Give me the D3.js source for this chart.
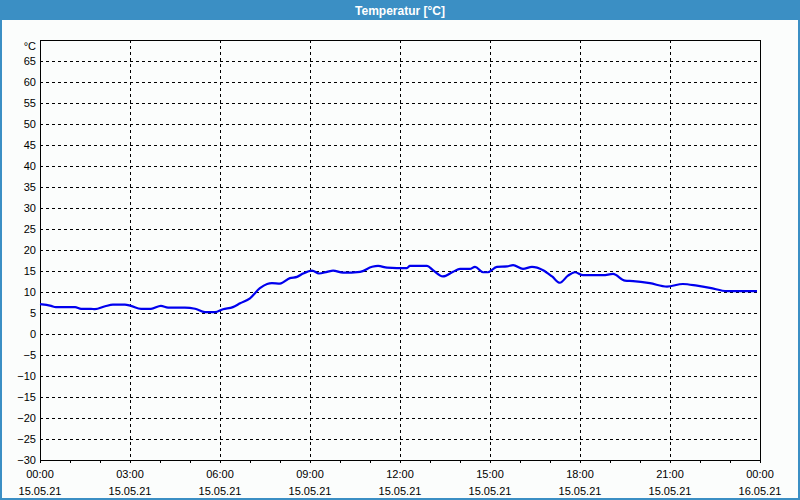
<!DOCTYPE html>
<html><head><meta charset="utf-8">
<script src="https://cdn.jsdelivr.net/npm/d3@7"></script>
<style>html,body{margin:0;padding:0;background:#fbfdfc;}svg{display:block;}</style>
</head><body>
<script>
const title = "Temperatur [°C]";
const unitLabel = "°C";
const hours = [0,0.37,0.53,1.17,1.37,1.7,1.83,2.17,2.43,2.83,3.03,3.37,3.7,4.03,4.27,4.83,5.17,5.5,5.83,6.1,6.43,6.67,7.0,7.33,7.57,7.73,8.0,8.33,8.57,8.77,9.07,9.3,9.57,9.77,10.1,10.67,11.07,11.27,11.57,11.9,12.23,12.33,12.9,13.1,13.43,13.77,14.0,14.33,14.5,14.77,14.93,15.23,15.57,15.77,16.1,16.4,16.77,17.07,17.33,17.6,17.83,18.1,18.77,19.1,19.5,19.77,20.33,20.9,21.43,21.9,22.33,22.9,23.9];
const temps = [7.1,6.7,6.4,6.4,6.0,6.0,5.9,6.6,7.0,7.0,6.7,6.0,6.0,6.7,6.3,6.3,6.0,5.2,5.2,5.9,6.4,7.3,8.5,10.9,11.9,12.1,12.0,13.3,13.6,14.4,15.1,14.4,14.8,15.1,14.6,14.8,16.0,16.2,15.8,15.7,15.7,16.2,16.2,15.2,13.7,14.8,15.5,15.5,16.0,14.7,14.7,16.0,16.1,16.4,15.5,16.0,15.2,13.7,12.2,13.9,14.7,14.0,14.0,14.3,12.7,12.6,12.1,11.3,11.9,11.5,11.0,10.2,10.2];
const yTicks = [-30,-25,-20,-15,-10,-5,0,5,10,15,20,25,30,35,40,45,50,55,60,65];
const xTickHours = [0,3,6,9,12,15,18,21,24];
const xTimeLabels = ["00:00","03:00","06:00","09:00","12:00","15:00","18:00","21:00","00:00"];
const xDateLabels = ["15.05.21","15.05.21","15.05.21","15.05.21","15.05.21","15.05.21","15.05.21","15.05.21","16.05.21"];

const W = 800, H = 500;
const L = 40, R = 760, T = 40, B = 460;
const font = "'Liberation Sans', Arial, sans-serif";
const svg = d3.select("body").append("svg").attr("width", W).attr("height", H);

svg.append("rect").attr("x",0).attr("y",0).attr("width",W).attr("height",H).attr("fill","#fbfdfc");
svg.append("rect").attr("x",1).attr("y",1).attr("width",W-2).attr("height",H-2).attr("fill","none").attr("stroke","#3b8fc4").attr("stroke-width",2);
svg.append("rect").attr("x",0).attr("y",0).attr("width",W).attr("height",20).attr("fill","#3b8fc4");
svg.append("text").attr("x",W/2).attr("y",14.5).attr("text-anchor","middle")
  .attr("fill","#fff").attr("font-family",font).attr("font-weight","bold").attr("font-size",12).text(title);

const x = d3.scaleLinear().domain([0,24]).range([L,R]);
const y = d3.scaleLinear().domain([-30,70]).range([B,T]);

const g = svg.append("g").attr("shape-rendering","crispEdges");
// horizontal gridlines
g.selectAll("line.hg").data(yTicks.filter(v=>v>-30)).enter().append("line")
  .attr("x1",L).attr("x2",R).attr("y1",d=>Math.round(y(d))+0.5).attr("y2",d=>Math.round(y(d))+0.5)
  .attr("stroke","#000").attr("stroke-dasharray","3,3");
// vertical gridlines
g.selectAll("line.vg").data(xTickHours.filter(h=>h>0&&h<24)).enter().append("line")
  .attr("y1",T).attr("y2",B).attr("x1",d=>Math.round(x(d))+0.5).attr("x2",d=>Math.round(x(d))+0.5)
  .attr("stroke","#000").attr("stroke-dasharray","3,3");

// bottom axis with hourly ticks
const xAxis = d3.axisBottom(x).tickValues(d3.range(0,25,1)).tickSize(3).tickFormat("");
const ax = svg.append("g").attr("transform",`translate(0,${B})`).call(xAxis);
ax.select(".domain").remove();
ax.selectAll("line").attr("stroke","#000").attr("shape-rendering","crispEdges");

// frame
svg.append("rect").attr("x",L+0.5).attr("y",T+0.5).attr("width",R-L).attr("height",B-T)
  .attr("fill","none").attr("stroke","#000").attr("shape-rendering","crispEdges");

// y labels
const yAxis = d3.axisLeft(y).tickValues(yTicks).tickSize(0).tickPadding(4).tickFormat(d3.format("d"));
const ay = svg.append("g").attr("transform",`translate(${L},0)`).call(yAxis);
ay.select(".domain").remove();
ay.selectAll("text").attr("font-family",font).attr("font-size",11).attr("fill","#000");
svg.append("text").attr("x",L-4).attr("y",y(70)+10).attr("text-anchor","end")
  .attr("font-family",font).attr("font-size",11).text(unitLabel);

// x labels
xTickHours.forEach((h,i)=>{
  svg.append("text").attr("x",x(h)).attr("y",478).attr("text-anchor","middle")
    .attr("font-family",font).attr("font-size",11).text(xTimeLabels[i]);
  svg.append("text").attr("x",x(h)).attr("y",495).attr("text-anchor","middle")
    .attr("font-family",font).attr("font-size",11).text(xDateLabels[i]);
});

// line
const data = hours.map((h,i)=>({h, t:temps[i]}));
const line = d3.line().x(d=>x(d.h)).y(d=>y(d.t)).curve(d3.curveMonotoneX);
svg.append("path").datum(data).attr("d",line).attr("fill","none")
  .attr("stroke","#0000ee").attr("stroke-width",2.2).attr("stroke-linejoin","round");
</script>
</body></html>
